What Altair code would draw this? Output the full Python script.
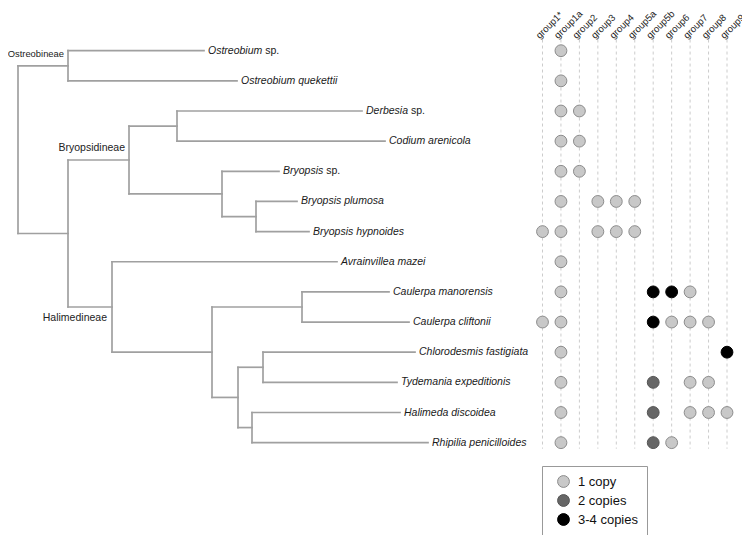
import altair as alt
import pandas as pd

# ---------------- data ----------------
species = ["Ostreobium sp.", "Ostreobium quekettii", "Derbesia sp.", "Codium arenicola",
           "Bryopsis sp.", "Bryopsis plumosa", "Bryopsis hypnoides", "Avrainvillea mazei",
           "Caulerpa manorensis", "Caulerpa cliftonii", "Chlorodesmis fastigiata",
           "Tydemania expeditionis", "Halimeda discoidea", "Rhipilia penicilloides"]
# branch end (depth from root) of each tip
tip_depth = [186, 219, 344, 367, 261, 279, 291, 319, 371, 391, 397, 379, 382, 410]

groups = ["group1*", "group1a", "group2", "group3", "group4", "group5a",
          "group5b", "group6", "group7", "group8", "group9"]
# copy class per species x group: 0 none, 1 = 1 copy, 2 = 2 copies, 3 = 3-4 copies
copies = [
    [0, 1, 0, 0, 0, 0, 0, 0, 0, 0, 0],
    [0, 1, 0, 0, 0, 0, 0, 0, 0, 0, 0],
    [0, 1, 1, 0, 0, 0, 0, 0, 0, 0, 0],
    [0, 1, 1, 0, 0, 0, 0, 0, 0, 0, 0],
    [0, 1, 1, 0, 0, 0, 0, 0, 0, 0, 0],
    [0, 1, 0, 1, 1, 1, 0, 0, 0, 0, 0],
    [1, 1, 0, 1, 1, 1, 0, 0, 0, 0, 0],
    [0, 1, 0, 0, 0, 0, 0, 0, 0, 0, 0],
    [0, 1, 0, 0, 0, 0, 3, 3, 1, 0, 0],
    [1, 1, 0, 0, 0, 0, 3, 1, 1, 1, 0],
    [0, 1, 0, 0, 0, 0, 0, 0, 0, 0, 3],
    [0, 1, 0, 0, 0, 0, 2, 0, 1, 1, 0],
    [0, 1, 0, 0, 0, 0, 2, 0, 1, 1, 1],
    [0, 1, 0, 0, 0, 0, 2, 1, 0, 0, 0],
]
copy_labels = ["1 copy", "2 copies", "3-4 copies"]
copy_fill = ["#c8c8c8", "#666666", "#000000"]
copy_stroke = ["#8c8c8c", "#555555", "#000000"]

# tree topology: (clade name, node depth, children); ints are tip indices
tree = ("", 0, [
    ("Ostreobineae", 50, [0, 1]),
    ("", 50, [
        ("Bryopsidineae", 111, [("", 159, [2, 3]), ("", 204, [4, ("", 238, [5, 6])])]),
        ("Halimedineae", 94, [7, ("", 194, [("", 284, [8, 9]),
                                            ("", 220, [("", 245, [10, 11]), ("", 234, [12, 13])])])]),
    ]),
])
clade_above = {"Ostreobineae": True, "Bryopsidineae": True, "Halimedineae": False}
clade_size = {"Ostreobineae": 9.4, "Bryopsidineae": 10.5, "Halimedineae": 10.5}

# ---------------- layout helpers ----------------
W, H = 734, 527
FONT = "Liberation Sans"
FS = 10.5
HFS = 9.6
ROW0, ROWSTEP = 42.7, 30.15          # pixel position of row 0 / spacing
COL0, COLSTEP = 534.5, 18.45         # pixel position of column 0 / spacing
TREE0 = 10.0                          # pixel position of root

ymin = -ROW0 / ROWSTEP
yscale = alt.Scale(domain=[ymin, ymin + H / ROWSTEP], reverse=True)
xmin = -COL0 / COLSTEP
cscale = alt.Scale(domain=[xmin, xmin + W / COLSTEP])
tscale = alt.Scale(domain=[-TREE0, W - TREE0])

# Arial/Liberation Sans advance widths (per 1000 em)
AW = {" ": 278, "O": 778, "D": 722, "B": 667, "s": 500, "t": 278, "r": 333, "e": 556,
      "o": 556, "b": 556, "i": 222, "u": 556, "m": 833, "a": 556, "y": 500, "p": 556}


def text_w(s, size):
    return sum(AW.get(c, 556) for c in s) * size / 1000.0


segments = []
clades = []


def lay(node, parent_depth):
    if isinstance(node, int):
        y, d = float(node), tip_depth[node]
    else:
        name, d, kids = node
        ys = [lay(k, d) for k in kids]
        y = (ys[0] + ys[-1]) / 2
        segments.append(dict(x=d, x2=d, y=ys[0], y2=ys[-1]))
        if name:
            clades.append(dict(name=name, x=d, y=y, above=clade_above[name], size=clade_size[name]))
    if parent_depth is not None:
        segments.append(dict(x=parent_depth, x2=d, y=y, y2=y))
    return y


lay(tree, None)
seg_df = pd.DataFrame(segments)
clade_df = pd.DataFrame(clades)

tips = []
sps = []
for i, (name, d) in enumerate(zip(species, tip_depth)):
    if name.endswith(" sp."):
        genus = name[:-4]
        tips.append(dict(label=genus, x=d, y=i))
        sps.append(dict(label="sp.", x=d + text_w(genus + " ", FS), y=i))
    else:
        tips.append(dict(label=name, x=d, y=i))
tip_df = pd.DataFrame(tips)
sp_df = pd.DataFrame(sps)

dots = []
for i, row in enumerate(copies):
    for j, c in enumerate(row):
        if c:
            dots.append(dict(species=species[i], group=groups[j], row=i, col=j,
                             copies=copy_labels[c - 1]))
dot_df = pd.DataFrame(dots)
col_df = pd.DataFrame({"group": groups, "col": list(range(len(groups)))})

# ---------------- tree ----------------
tx = lambda f: alt.X(f, type="quantitative", scale=tscale, axis=None)
ty = lambda f: alt.Y(f, type="quantitative", scale=yscale, axis=None)

branches = alt.Chart(seg_df).mark_rule(color="#a0a0a0", strokeWidth=1.7, strokeCap="square").encode(
    x=tx("x"), x2="x2", y=ty("y"), y2="y2")

tip_text = alt.Chart(tip_df).mark_text(align="left", baseline="middle", dx=4, font=FONT,
                                       fontSize=FS, fontStyle="italic", color="#1a1a1a").encode(
    x=tx("x"), y=ty("y"), text="label")
sp_text = alt.Chart(sp_df).mark_text(align="left", baseline="middle", dx=4, font=FONT,
                                     fontSize=FS, color="#1a1a1a").encode(
    x=tx("x"), y=ty("y"), text="label")

clade_up = alt.Chart(clade_df).transform_filter("datum.above").mark_text(
    align="right", baseline="middle", dx=-4, dy=-12, font=FONT, color="#222222").encode(
    x=tx("x"), y=ty("y"), text="name", size=alt.Size("size:Q", scale=None, legend=None))
clade_down = alt.Chart(clade_df).transform_filter("!datum.above").mark_text(
    align="right", baseline="middle", dx=-5, dy=11, font=FONT, color="#222222").encode(
    x=tx("x"), y=ty("y"), text="name", size=alt.Size("size:Q", scale=None, legend=None))

tree_layer = alt.layer(branches, tip_text, sp_text, clade_up, clade_down)

# ---------------- matrix ----------------
cx = alt.X("col:Q", scale=cscale, axis=None)

guides = alt.Chart(col_df).mark_rule(color="#cccccc", strokeWidth=1, strokeDash=[3, 3]).encode(
    x=cx, y=alt.Y(datum=-0.37, type="quantitative", scale=yscale, axis=None), y2=alt.datum(13.2))

headers = alt.Chart(col_df).mark_text(align="left", baseline="alphabetic", angle=315, dx=-4,
                                      font=FONT, fontSize=HFS, color="#222222").encode(
    x=cx, y=alt.Y(datum=-0.47, type="quantitative", scale=yscale, axis=None), text="group")

points = alt.Chart(dot_df).mark_circle(size=140, opacity=1, strokeWidth=1).encode(
    x=cx,
    y=alt.Y("row:Q", scale=yscale, axis=None),
    fill=alt.Fill("copies:N", scale=alt.Scale(domain=copy_labels, range=copy_fill),
                  legend=alt.Legend(title=None, orient="none", legendX=534, legendY=458,
                                    direction="vertical", padding=9, rowPadding=2,
                                    symbolOffset=6, labelOffset=8, labelFontSize=13,
                                    labelFont=FONT, labelColor="#111111", symbolSize=140,
                                    symbolType="circle", strokeColor="#999999",
                                    fillColor="white", symbolStrokeColor="#777777",
                                    symbolStrokeWidth=1)),
    stroke=alt.Stroke("copies:N", scale=alt.Scale(domain=copy_labels, range=copy_stroke),
                      legend=None),
)

matrix_layer = alt.layer(guides, headers, points)

chart = alt.layer(tree_layer, matrix_layer).resolve_scale(x="independent").properties(
    width=W, height=H, padding=0, autosize=alt.AutoSizeParams(type="none")
).configure_view(stroke=None)

chart.save("out.html", embed_options={"renderer": "svg", "actions": False})
